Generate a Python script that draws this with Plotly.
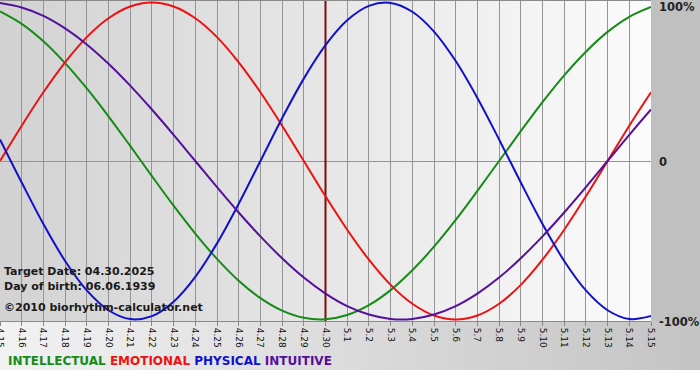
import base64
import plotly.graph_objects as go

# ---- data ----
day_labels = ["4.15", "4.16", "4.17", "4.18", "4.19", "4.20", "4.21", "4.22", "4.23", "4.24",
              "4.25", "4.26", "4.27", "4.28", "4.29", "4.30", "5.1", "5.2", "5.3", "5.4",
              "5.5", "5.6", "5.7", "5.8", "5.9", "5.10", "5.11", "5.12", "5.13", "5.14", "5.15"]
intellectual = [0.945, 0.866, 0.756, 0.618, 0.458, 0.282, 0.095, -0.095, -0.282, -0.458,
                -0.618, -0.756, -0.866, -0.945, -0.990, -0.999, -0.972, -0.910, -0.815,
                -0.690, -0.541, -0.372, -0.189, 0.000, 0.189, 0.372, 0.541, 0.690, 0.815,
                0.910, 0.972]
emotional = [0.000, 0.223, 0.434, 0.623, 0.782, 0.901, 0.975, 1.000, 0.975, 0.901, 0.782,
             0.623, 0.434, 0.223, 0.000, -0.223, -0.434, -0.623, -0.782, -0.901, -0.975,
             -1.000, -0.975, -0.901, -0.782, -0.623, -0.434, -0.223, 0.000, 0.223, 0.434]
physical = [0.136, -0.136, -0.398, -0.631, -0.817, -0.942, -0.998, -0.979, -0.888, -0.731,
            -0.520, -0.270, 0.000, 0.270, 0.520, 0.731, 0.888, 0.979, 0.998, 0.942, 0.817,
            0.631, 0.398, 0.136, -0.136, -0.398, -0.631, -0.817, -0.942, -0.998, -0.979]
intuitive = [0.997, 0.969, 0.916, 0.837, 0.736, 0.614, 0.476, 0.325, 0.165, 0.000, -0.165,
             -0.325, -0.476, -0.614, -0.736, -0.837, -0.916, -0.969, -0.997, -0.997,
             -0.969, -0.916, -0.837, -0.736, -0.614, -0.476, -0.325, -0.165, 0.000, 0.165,
             0.325]
target_label = "4.30"
y_tick_vals = [1, 0, -1]
y_tick_text = ["100%", "0", "-100%"]
info_lines = ["Target Date: 04.30.2025", "Day of birth: 06.06.1939", "\u00a92010 biorhythm-calculator.net"]

series = [
    ("INTELLECTUAL", intellectual, "#178a17"),
    ("EMOTIONAL", emotional, "#ee1111"),
    ("PHYSICAL", physical, "#1111cc"),
    ("INTUITIVE", intuitive, "#55109a"),
]

x = list(range(len(day_labels)))

# ---- layout geometry (pixels) ----
W, H = 700, 380
L, R, T, B = 0, 49, 1, 59
PW = W - L - R
PH = H - T - B
FONT = "DejaVu Sans"
Y_RANGE = [-1.01, 1.01]

fig = go.Figure()

# target date line (drawn first so the curves pass over it)
tx = day_labels.index(target_label)
fig.add_trace(go.Scatter(x=[tx, tx], y=Y_RANGE, mode="lines",
                         line=dict(color="#7a0c0c", width=2),
                         showlegend=False, hoverinfo="skip", cliponaxis=False))

for name, vals, col in series:
    fig.add_trace(go.Scatter(x=x, y=vals, mode="lines", name=name,
                             line=dict(color=col, width=2, shape="spline", smoothing=1),
                             showlegend=False, hoverinfo="skip"))

# background drawn as an SVG image covering the whole figure
svg = f"""<svg xmlns='http://www.w3.org/2000/svg' width='{W}' height='{H}' viewBox='0 0 {W} {H}' preserveAspectRatio='none'>
<defs>
<linearGradient id='p' x1='0' y1='0' x2='1' y2='0'>
<stop offset='0' stop-color='#d2d2d2'/><stop offset='1' stop-color='#fbfbfb'/></linearGradient>
<linearGradient id='b' x1='0' y1='0' x2='1' y2='0'>
<stop offset='0' stop-color='#f2f2f2'/><stop offset='1' stop-color='#c4c4c4'/></linearGradient>
</defs>
<rect x='0' y='0' width='{W}' height='{H}' fill='#ffffff'/>
<rect x='0' y='{T + PH}' width='{W}' height='49' fill='url(#b)'/>
<rect x='{PW}' y='0' width='{W - PW}' height='{T + PH}' fill='#c0c0c0'/>
<rect x='0' y='0' width='{PW}' height='{T + PH}' fill='url(#p)'/>
</svg>"""
src = "data:image/svg+xml;base64," + base64.b64encode(svg.encode()).decode()
fig.add_layout_image(dict(source=src, xref="paper", yref="paper",
                          x=-L / PW, y=1 + T / PH, sizex=W / PW, sizey=H / PH,
                          xanchor="left", yanchor="top", sizing="stretch", layer="below"))

# right-hand value labels (placed as annotations so they stay inside the picture)
y_label_shift = [-4, -1, -3]
for v, t, s in zip(y_tick_vals, y_tick_text, y_label_shift):
    fig.add_annotation(text=f"<b>{t}</b>", xref="paper", yref="y", x=1, y=v,
                       xanchor="left", yanchor="middle", xshift=6, yshift=s,
                       showarrow=False, font=dict(family=FONT, size=11.5, color="#222222"))

# info text
info_y_px = [271, 286, 307]
for txt, py in zip(info_lines, info_y_px):
    fig.add_annotation(text=f"<b>{txt}</b>", xref="paper", yref="paper",
                       x=2 / PW, y=(T + PH - py) / PH, xanchor="left", yanchor="middle",
                       showarrow=False, font=dict(family=FONT, size=11, color="#1a1a1a"))

# bottom legend text
legend_html = " ".join(f"<span style='color:{c}'>{n}</span>" for n, _, c in series)
fig.add_annotation(text=f"<b>{legend_html}</b>", xref="paper", yref="paper",
                   x=6 / PW, y=(T + PH - 361) / PH, xanchor="left", yanchor="middle",
                   showarrow=False, font=dict(family=FONT, size=12))

fig.update_layout(
    width=W, height=H,
    margin=dict(l=L, r=R, t=T, b=B, pad=0),
    paper_bgcolor="rgba(0,0,0,0)", plot_bgcolor="rgba(0,0,0,0)",
    showlegend=False,
    xaxis=dict(range=[0, len(day_labels) - 1], tickmode="array", tickvals=x, ticktext=day_labels,
               tickangle=90, tickfont=dict(family=FONT, size=9, color="#111111"),
               ticklabeloverflow="allow",
               showgrid=True, gridcolor="#959595", gridwidth=1,
               ticks="outside", ticklen=4, tickcolor="#888888",
               showline=True, linecolor="#8a8a8a", mirror=True,
               zeroline=False, automargin=False, fixedrange=True),
    yaxis=dict(range=Y_RANGE, side="right", showticklabels=False,
               showgrid=False, zeroline=True, zerolinecolor="#959595", zerolinewidth=1,
               ticks="", showline=False, automargin=False, fixedrange=True),
)

fig.write_html("out.html", config={"displayModeBar": False},
               post_script="document.body.style.margin='0';document.body.style.overflow='hidden';")
